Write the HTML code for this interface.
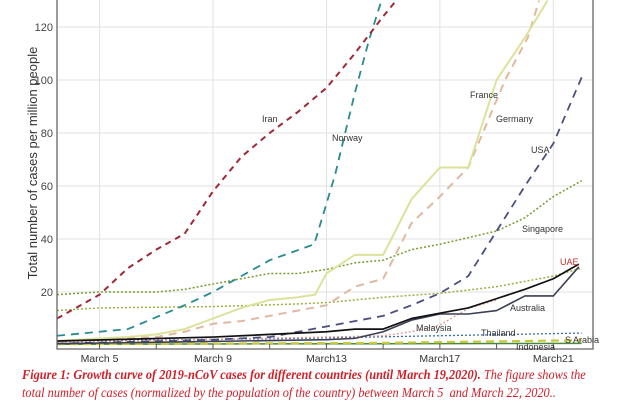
<!DOCTYPE html>
<html><head><meta charset="utf-8"><style>
body{margin:0;background:#fff;width:640px;height:400px;overflow:hidden;font-family:"Liberation Sans",sans-serif}
#cap{position:absolute;left:22px;top:366px;width:640px;font-family:"Liberation Serif",serif;font-style:italic;color:#d0202a;font-size:13.4px;line-height:18px}
#cap div{white-space:nowrap;transform:scaleX(0.92);transform-origin:0 0}
</style></head><body>
<svg id="chart" width="640" height="365" style="position:absolute;left:0;top:0">
<defs><clipPath id="clip"><rect x="57" y="0" width="536" height="348"/></clipPath></defs>
<g id="grid"></g><g id="series" clip-path="url(#clip)"></g><g id="axes"></g><g id="labels"></g>
<text transform="translate(37,163) rotate(-90)" text-anchor="middle" font-size="13" fill="#333">Total number of cases per million people</text>
</svg>
<div id="cap"><div><b>Figure 1: Growth curve of 2019-nCoV cases for different countries (until March 19,2020).</b> The figure shows the</div><div>total number of cases (normalized by the population of the country) between March 5&nbsp; and March 22, 2020..</div></div>
<script>
const yTicks=[20,40,60,80,100,120];
const xTickDays=[5,7,9,11,13,15,17,19,21];
const xLabelDays=[5,9,13,17,21];
const xLabels=["March 5","March 9","March13","March17","March21"];
const iranDays=[3.5,5,6,7,8,9,10,11,12,13,14,15,16];
const iranVals=[10,19,29,36,42,58,71,80,88,97,110,124,137];
const norwayDays=[3.5,5,6,7,8,9,10,11,12.57,13.3,14,14.5,15];
const norwayVals=[3.5,5,6,10.5,15,20,26,32,38,64,95,115,132];
const franceDays=[3.5,5,6,7,8,9,10,11,12,12.6,13,14,15,16,17,18,19,20,20.8];
const franceVals=[1.5,2.5,3,4,6,10,14,17,18,19,27,34,34,55,67,67,100,116,130];
const germanyDays=[3.5,5,7,8,9,10,11,12,13,14,15,16,17,18,19.3,20.1,20.5];
const germanyVals=[1.5,2,3,5,8,9,11,13,15,22,25,46,56,67,100,116,130];
const usaDays=[3.5,9,11,12,13,14,15,16,17,18,19,20,21,22];
const usaVals=[0.5,2,3,5,7,9,11,15,19.5,26,43,60,76,101];
const singDays=[3.5,5,7,8,9,10,11,12,13,14,15,16,17,18,19,20,21,22];
const singVals=[19,20,20,21,23,25,27,27,28.5,31,32,36,38,40.5,43,48,56,62];
const greenDays=[3.5,5,9,12,13,15,17,19,20,21,22];
const greenVals=[13,14,14.5,15.5,16,18,19.5,22,24,26,29];
const uaeDays=[3.5,9,13,14,15,16,17,18,19,20,21,21.9];
const uaeVals=[1.5,3,5,6,6,10,12,14,17.5,21,25,30.5];
const ausDays=[3.5,13,14,15,16,17,18,19,20,21,21.9];
const ausVals=[0.5,2,2.5,5,9.4,11.7,11.7,13,18.5,18.5,29.5];
const malDays=[3.5,13,15,16,17,18,19];
const malVals=[1,3,3.5,5,7.5,13.8,17];
const thaiDays=[3.5,12,22];
const thaiVals=[1.5,2.5,4.5];
const saDays=[3.5,15,22];
const saVals=[0.3,0.8,1.8];
const indoDays=[3.5,22];
const indoVals=[0.3,0.6];
const NS="http://www.w3.org/2000/svg";
const X=d=>57+(d-3.5)*28.36, Y=v=>345-v*2.65;
function mk(p,t,a){const e=document.createElementNS(NS,t);for(const k in a)e.setAttribute(k,a[k]);p.appendChild(e);return e;}
const G=document.getElementById('grid'),S=document.getElementById('series'),A=document.getElementById('axes'),L=document.getElementById('labels');
yTicks.forEach(v=>{const l=mk(G,'line',{x1:57,x2:593,y1:Y(v),y2:Y(v),stroke:'#e2e2e2','stroke-width':1});


const t=mk(A,'text',{x:53,y:Y(v)+4,'text-anchor':'end','font-size':11,fill:'#444'});t.textContent=v;

});
xLabelDays.forEach((d,i)=>{const l=mk(G,'line',{x1:X(d),x2:X(d),y1:0,y2:349,stroke:'#e2e2e2','stroke-width':1});


const t=mk(A,'text',{x:X(d),y:362,'text-anchor':'middle','font-size':10.5,fill:'#333'});t.textContent=xLabels[i];

});
xTickDays.forEach(d=>{const l=mk(A,'line',{x1:X(d),x2:X(d),y1:349,y2:344,stroke:'#555'});

});
const ax=mk(A,'path',{d:'M57,0V349H593V0',fill:'none',stroke:'#666','stroke-width':1.3});


function line(name,days,vals,col,w,dash){const p=mk(S,'polyline',{points:days.map((d,i)=>X(d)+','+Y(vals[i])).join(' '),fill:'none',stroke:col,'stroke-width':w,'stroke-dasharray':dash||'none','stroke-linejoin':'round'});

}
line('series-indonesia',indoDays,indoVals,'#4a8a3a',1.5);
line('series-s-arabia',saDays,saVals,'#c8c840',2.2,'8,5');
line('series-thailand',thaiDays,thaiVals,'#3a6ab0',1.3,'2,2');
line('series-malaysia',malDays,malVals,'#e09a9a',1.3,'2,2');
line('series-green-dotted',greenDays,greenVals,'#9ab040',1.5,'2,2');
line('series-singapore',singDays,singVals,'#7a9a30',1.5,'2,2');
line('series-germany',germanyDays,germanyVals,'#e0b8a0',2,'8,6');
line('series-france',franceDays,franceVals,'#dde29a',2);
line('series-usa',usaDays,usaVals,'#4a4e80',1.8,'8,6');
line('series-norway',norwayDays,norwayVals,'#2a8a90',1.8,'8,6');
line('series-iran',iranDays,iranVals,'#a02838',2,'6,5');
line('series-australia',ausDays,ausVals,'#3a3f55',1.6);
line('series-uae',uaeDays,uaeVals,'#111',1.7);
const labs=[["Iran",262,122,'#333'],["Norway",332,141,'#333'],["France",470,98,'#333'],["Germany",496,122,'#333'],["USA",531,153,'#333'],["Singapore",522,232,'#333'],["UAE",560,265,'#c03030'],["Australia",510,311,'#333'],["Malaysia",416,331,'#333'],["Thailand",481,336,'#333'],["S Arabia",565,343,'#333'],["Indonesia",516,350,'#333']];
labs.forEach(l=>{const t=mk(L,'text',{x:l[1],y:l[2],'font-size':9,fill:l[3]});t.textContent=l[0];

});
</script>
</body></html>
